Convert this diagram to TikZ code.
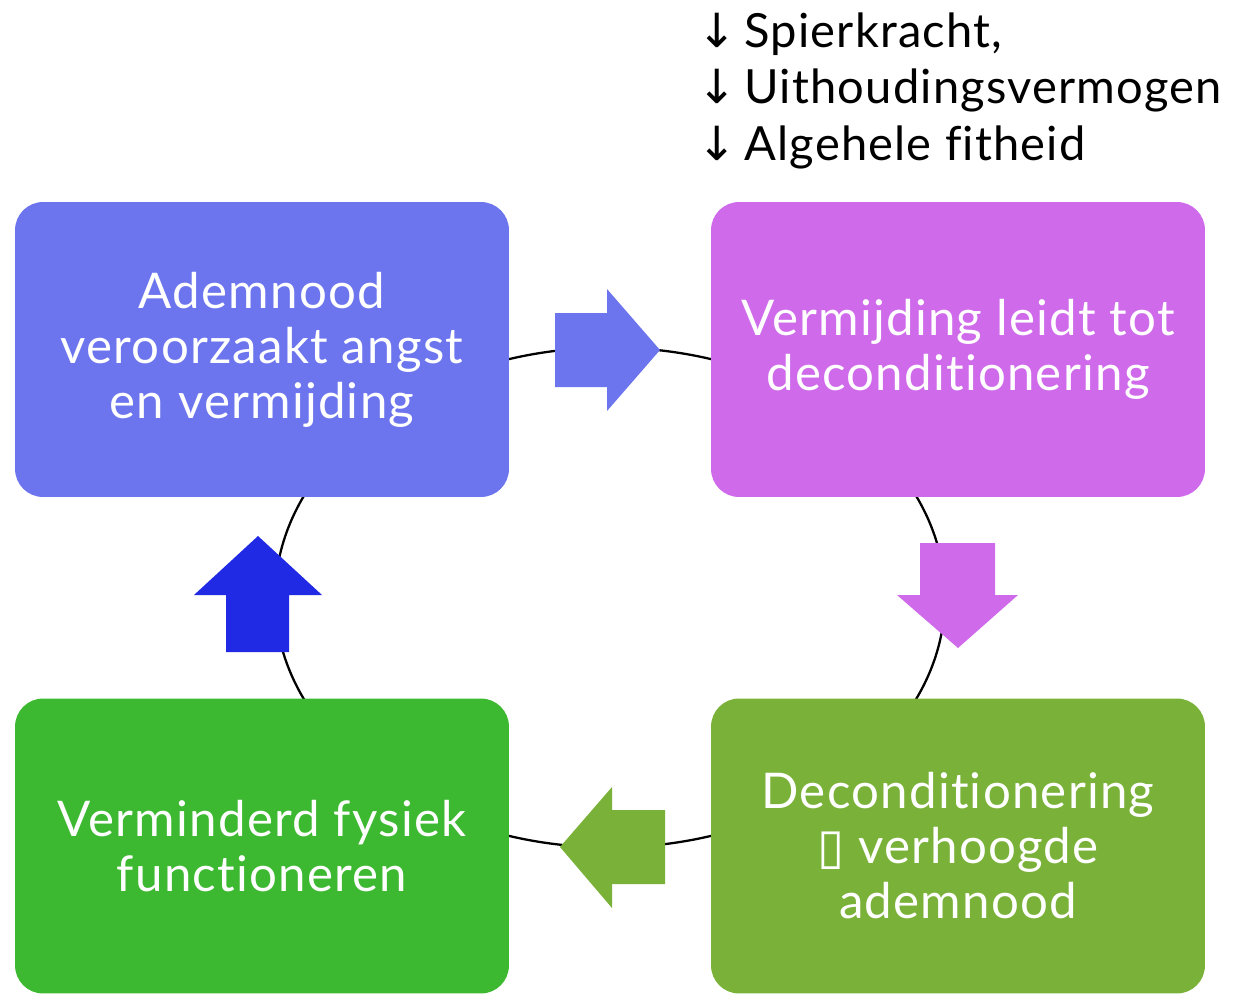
\documentclass[tikz,border=0pt]{standalone}
\usepackage{fontspec}
\setmainfont{Lato}[Ligatures={NoCommon}, LetterSpace=2.5]
\newfontfamily\symfont{DejaVu Sans}
\definecolor{cA}{HTML}{6C75EE}
\definecolor{cB}{HTML}{CF6BEB}
\definecolor{cC}{HTML}{7AB239}
\definecolor{cD}{HTML}{3DB931}
\definecolor{cUp}{HTML}{2029E3}
\begin{document}
\begin{tikzpicture}[x=0.02cm,y=-0.02cm,
  stepbox/.style={rectangle, rounded corners=0.56cm, minimum width=9.88cm, minimum height=5.9cm,
    text=white, align=center, inner sep=0pt, font=\fontsize{28}{31.3}\selectfont}]
\useasboundingbox (0,0) rectangle (1247,994);
% cycle ellipse
\coordinate (ctr) at (610,597.5);
\draw[line width=1.3pt] (ctr) ellipse [x radius=6.7cm, y radius=5cm];
% boxes
\node[stepbox, fill=cA] (a) at (262,349.5) {Ademnood\\veroorzaakt angst\\en vermijding};
\node[stepbox, fill=cB] (b) at (958,349.5) {Vermijding leidt tot\\deconditionering};
\node[stepbox, fill=cC] (c) at (958,846) {Deconditionering\\{\symfont ▯} verhoogde\\ademnood};
\node[stepbox, fill=cD] (d) at (262,846) {Verminderd fysiek\\functioneren};
% block arrows
\fill[cA] (555,313) -- (607,313) -- (607,289) -- (660,350) -- (607,411) -- (607,387) -- (555,387) -- cycle;
\fill[cB] (920,543) -- (995,543) -- (995,595) -- (1018,595) -- (958,648) -- (897,595) -- (920,595) -- cycle;
\fill[cC] (665,810) -- (612,810) -- (612,787) -- (560,847) -- (612,908) -- (612,884) -- (665,884) -- cycle;
\fill[cUp] (226,652) -- (289,652) -- (289,595) -- (322,595) -- (258,536) -- (194,595) -- (226,595) -- cycle;
% top note
\node[anchor=north west, inner sep=0pt, align=left, font=\fontsize{26.8}{32.3}\selectfont] (note) at (697,12)
  {{\symfont ↓}\,Spierkracht,\\{\symfont ↓}\,Uithoudingsvermogen\\{\symfont ↓}\,Algehele fitheid};
\end{tikzpicture}
\end{document}
